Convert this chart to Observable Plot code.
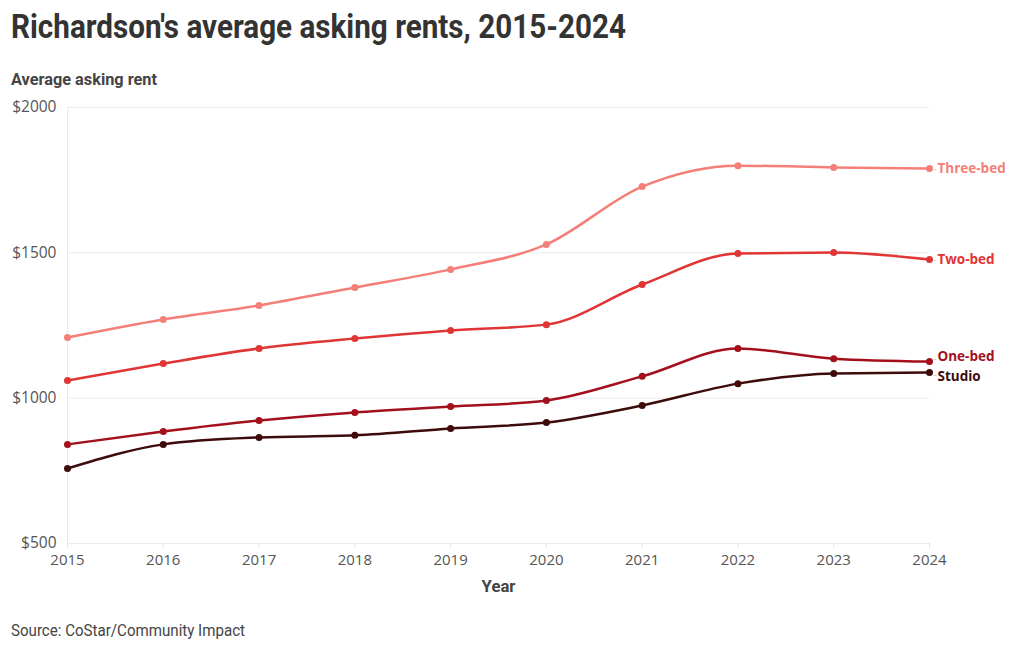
<!DOCTYPE html>
<html>
<head>
<meta charset="utf-8">
<script src="https://cdn.jsdelivr.net/npm/d3@7"></script>
<script src="https://cdn.jsdelivr.net/npm/@observablehq/plot@0.6"></script>
<style>
  html, body { margin: 0; padding: 0; background: #fff; }
  body { width: 1020px; height: 650px; position: relative; overflow: hidden; }
  .fit { position: absolute; white-space: nowrap; transform-origin: 0 0; font-family: Roboto, sans-serif; }
  .title { left: 11px; top: 7px; font-weight: bold; font-size: 33px; color: #333; }
  .subtitle { left: 11px; top: 69px; font-weight: bold; font-size: 17px; color: #444; }
  #chart { position: absolute; left: 0; top: 92px; }
  .source { left: 11px; top: 621px; font-size: 16px; color: #444; }
</style>
</head>
<body>
<div class="fit title" data-w="615">Richardson's average asking rents, 2015-2024</div>
<div class="fit subtitle" data-w="146">Average asking rent</div>
<div id="chart"></div>
<div class="fit source" data-w="234">Source: CoStar/Community Impact</div>
<script>
const years = [2015, 2016, 2017, 2018, 2019, 2020, 2021, 2022, 2023, 2024];
const seriesNames = ["Three-bed", "Two-bed", "One-bed", "Studio"];
const threeBed = [1209, 1271, 1319, 1381, 1443, 1529, 1728, 1800, 1794, 1790];
const twoBed   = [1061, 1119, 1171, 1205, 1233, 1253, 1391, 1498, 1501, 1477];
const oneBed   = [841, 885, 923, 951, 971, 992, 1075, 1171, 1136, 1126];
const studio   = [758, 841, 865, 872, 896, 916, 975, 1050, 1085, 1088];
const colors = ["#f47f78", "#e03535", "#a3101c", "#3e0b0b"];
const yTicks = [500, 1000, 1500, 2000];
const labelShift = [0, 0, -5, 4];

// fit condensed text widths
document.querySelectorAll(".fit").forEach(el => {
  const w = el.getBoundingClientRect().width;
  const target = +el.dataset.w;
  el.style.transform = `scaleX(${target / w})`;
});

const seriesValues = [threeBed, twoBed, oneBed, studio];
const data = [];
seriesNames.forEach((name, i) => {
  years.forEach((yr, j) => data.push({series: name, year: yr, rent: seriesValues[i][j]}));
});
const n = years.length - 1;
const lastPoints = seriesNames.map((name, i) => ({ series: name, year: years[n], rent: seriesValues[i][n] }));

const chart = Plot.plot({
  width: 1020,
  height: 511,
  marginLeft: 67,
  marginRight: 91,
  marginTop: 15,
  marginBottom: 60,
  style: { fontFamily: "Open Sans, sans-serif", fontSize: "14px", color: "#555", background: "#fff" },
  x: { type: "linear", domain: [years[0], years[n]] },
  y: { domain: [yTicks[0], yTicks[yTicks.length - 1]] },
  color: { domain: seriesNames, range: colors },
  marks: [
    Plot.gridY(yTicks, { stroke: "#ebebeb", strokeOpacity: 1 }),
    Plot.ruleX([years[0]], { stroke: "#ebebeb" }),
    Plot.axisY(yTicks, { tickSize: 0, tickPadding: 11, tickFormat: d => "$" + d, label: null, fontSize: 15.5, fill: "#555" }),
    Plot.axisX(years, { tickSize: 5, tickPadding: 6, tickFormat: d => String(d), label: null, stroke: "#e6e6e6", fontSize: 15, fill: "#555" }),
    Plot.text(["Year"], { frameAnchor: "bottom", dy: 48, text: d => d, fontWeight: "bold", fontSize: 16, fill: "#444", fontFamily: "Roboto, sans-serif" }),
    Plot.line(data, { x: "year", y: "rent", z: "series", stroke: "series", strokeWidth: 2.5, curve: "monotone-x" }),
    Plot.dot(data, { x: "year", y: "rent", fill: "series", r: 3.5 }),
    ...lastPoints.map((p, i) => Plot.text([p], { x: "year", y: "rent", dx: 4, dy: labelShift[i] / 2, text: () => "-", fill: "#c8c8c8",
      textAnchor: "start", fontSize: 10 })),
    ...lastPoints.map((p, i) => Plot.text([p], { x: "year", y: "rent", dx: 8, dy: labelShift[i], text: "series", fill: colors[i],
      textAnchor: "start", fontWeight: "bold", fontSize: 13.5, fontFamily: "Open Sans, sans-serif" }))
  ]
});
document.getElementById("chart").appendChild(chart);

// scale "Year" label to condensed width
const yearLabel = Array.from(chart.querySelectorAll("text")).find(t => t.textContent === "Year");
if (yearLabel) {
  const bb = yearLabel.getBBox();
  const s = 34 / bb.width;
  const cx = bb.x + bb.width / 2;
  yearLabel.setAttribute("transform", (yearLabel.getAttribute("transform") || "") + ` translate(${cx},0) scale(${s},1) translate(${-cx},0)`);
}
</script>
</body>
</html>
